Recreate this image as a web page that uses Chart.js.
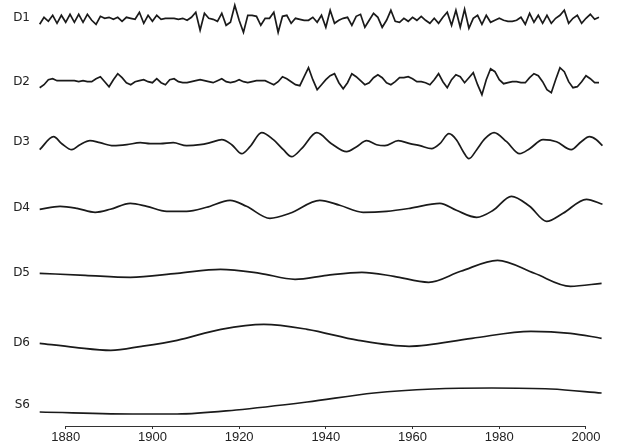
<!DOCTYPE html>
<html>
<head>
<meta charset="utf-8">
<script src="https://cdn.jsdelivr.net/npm/chart.js@4/dist/chart.umd.min.js"></script>
<style>
  body { margin: 0; background: #fff; }
  #wrap { width: 617px; height: 446px; }
</style>
</head>
<body>
<div id="wrap"><canvas id="chart"></canvas></div>
<script>
// row names, top to bottom
const rowNames = ["D1", "D2", "D3", "D4", "D5", "D6", "S6"];
const tickYears = [1880, 1900, 1920, 1940, 1960, 1980, 2000];

// annual detail series (1874 - 2003)
const firstYear = 1874;
const d1 = [-6, 1, -3, 3, -5, 3, -4, 4, -4, 4, -4, 4, -2, -6, 2, 0, 1, -1, 1, -3, 1, 0, -1, 6, -5, 3, -3, 3, -1, 0, 0, 0, -1, 0, -2, 1, 6,
  -12, 5, 0, -1, -3, 5, -7, -4, 13, -2, -14, 3, 3, 2, -7, 0, 0, 6, -14, 2, 3, -5, 0, -1, -2, -2, 1, -4, 3, -9, 8, -5, -2, 0, 1, -7, 2, 4, -9, -2, 5, 1, -9, -2, 8, -3, -4,
  0, -3, 1, -2, 2, -2, -5, 0, -5, 1, 6, -7, 8, -9, 9, -10, 0, 3, -6, 3, -4, -2, 0, -2, -3, -3, -2, 1, -6, 5, -4, 3, -5, 3, -5, 0, 3, 8, -5, 0, 3, -5, 0, 4, -1, 1];
const d2 = [-6, -3, 2, 3, 1, 1, 1, 1, 1, 0, 1, 0, 0, 3, 5, 0, -5, 2, 8, 4, -1, -3, 0, 1, 2, 0, -1, 3, -1, -3, 2, 3, 0, -1, -1, 0, 1,
  2, 1, 0, -1, 1, 3, 0, -1, 0, 2, 0, -1, 0, 1, 1, 1, -1, -3, 0, 5, 3, 0, -3, -4, 5, 14, 2, -8, -3, 2, 6, 8, -1, -7, -1, 8, 5, 1, -3, -1, 4, 7, 4, -1, -3, 0, 4,
  4, 5, 3, 0, 0, -1, -3, 2, 8, 0, -6, 2, 7, 5, -1, 4, 9, -3, -13, 2, 13, 10, 2, -2, -1, 0, 0, -1, -1, 4, 8, 6, 0, -8, -11, 2, 14, 10, 0, -6, -5, 0, 6, 3, -1, -1];

// smoother levels, read at turning points
const d3Years = [1874, 1877.2, 1879.1, 1881.4, 1883.3, 1885.6, 1887.9, 1891, 1894.1, 1897.2, 1899.5, 1901.8, 1904.8, 1907.9, 1911, 1913.3, 1916, 1918.3, 1920.6, 1922.5, 1925.2, 1927.9, 1930.2, 1932.1, 1934.4, 1937.9, 1941.3, 1944.8, 1947.1, 1949.4, 1951.7, 1953.6, 1956.7, 1959.4, 1961.7, 1964.4, 1966.3, 1968.4, 1970.1, 1971.7, 1973, 1974.8, 1976.7, 1978.8, 1981.7, 1984.7, 1987, 1990.1, 1993.2, 1996.6, 1998.9, 2000.8, 2002.4, 2003.8];
const d3Vals = [-8, 5, -2, -8, -3, 1, -1, -4, -3, -1, -2, -2, -1, -4, -3, -1, 2, -3, -12, -5, 9, 2, -8, -15, -7, 9, -2, -10, -5, 1, -3, -4, 1, -2, -4, -7, -2, 8, 2, -10, -17, -8, 3, 9, 0, -12, -7, 2, 0, -8, 0, 5, 2, -4];

const d4Years = [1874, 1878.7, 1882.6, 1886.8, 1890.3, 1894.9, 1898.7, 1903.3, 1907.9, 1912.5, 1917.9, 1921.7, 1927.1, 1931.7, 1938.6, 1943.2, 1948.6, 1954, 1959.4, 1966.3, 1970.1, 1974.8, 1978.6, 1982.8, 1987, 1990.9, 1994.7, 2000.1, 2003.8];
const d4Vals = [-1, 2, 0, -4, -1, 5, 2, -3, -3, 1, 8, 2, -10, -5, 8, 3, -4, -3, 0, 5, -2, -9, -2, 12, 2, -13, -5, 9, 4];

const d5Years = [1874, 1884.5, 1894.9, 1905.7, 1915.7, 1924.8, 1932.9, 1940.2, 1948.3, 1955.7, 1963.7, 1971.1, 1979.6, 1988.1, 1996.4, 2003.6];
const d5Vals = [0, -2, -4, 0, 4, 0, -6, -2, 1, -3, -9, 2, 13, 0, -13, -10];

const d6Years = [1874, 1882.1, 1890.4, 1897.5, 1905.7, 1915.8, 1925.7, 1935.7, 1947.5, 1959.2, 1973.7, 1987.3, 1996.4, 2003.6];
const d6Vals = [0, -4, -7, -3, 3, 14, 19, 14, 3, -3, 5, 12, 10, 5];

const s6Years = [1874, 1896.7, 1905.7, 1919.3, 1935.7, 1951.1, 1964.7, 1978.3, 1991.9, 2003.6];
const s6Vals = [-7, -9, -9, -5, 3, 12, 16, 17, 16, 12];

// vertical place of each row (zero line), in canvas pixels from the top
const rowBase = [18.3, 81.7, 141.7, 208.3, 273.3, 343.3, 405];

function annual(vals) {
  return vals.map((v, i) => ({ x: firstYear + i, y: v }));
}
function pairs(xs, vals) {
  return xs.map((x, i) => ({ x: x, y: vals[i] }));
}

const series = [
  { pts: annual(d1), smooth: false },
  { pts: annual(d2), smooth: false },
  { pts: pairs(d3Years, d3Vals), smooth: true },
  { pts: pairs(d4Years, d4Vals), smooth: true },
  { pts: pairs(d5Years, d5Vals), smooth: true },
  { pts: pairs(d6Years, d6Vals), smooth: true },
  { pts: pairs(s6Years, s6Vals), smooth: true }
];

const datasets = series.map((s, i) => ({
  label: rowNames[i],
  data: s.pts.map(p => ({ x: p.x, y: p.y - rowBase[i] })),
  borderColor: "#1a1a1a",
  borderWidth: 1.7,
  pointRadius: 0,
  fill: false,
  cubicInterpolationMode: s.smooth ? "monotone" : "default",
  tension: 0
}));

// R style axis line that only spans the first to last tick
const axisLine = {
  id: "axisLine",
  afterDraw(chart) {
    const x = chart.scales.x;
    const y = chart.chartArea.bottom + 0.5;
    const c = chart.ctx;
    c.save();
    c.beginPath();
    c.moveTo(x.getPixelForValue(tickYears[0]), y);
    c.lineTo(x.getPixelForValue(tickYears[tickYears.length - 1]), y);
    c.strokeStyle = "#333";
    c.lineWidth = 1;
    c.stroke();
    c.restore();
  }
};

// no extra room for the tick labels, the chart area fills the canvas
function noPad(scale) {
  scale.paddingTop = 0;
  scale.paddingBottom = 0;
  scale.paddingLeft = 0;
  scale.paddingRight = 0;
}

new Chart(document.getElementById("chart"), {
  type: "line",
  data: { datasets: datasets },
  options: {
    responsive: true,
    maintainAspectRatio: false,
    animation: false,
    layout: { padding: { top: 0, right: 5, bottom: 0, left: 0 } },
    plugins: { legend: { display: false }, tooltip: { enabled: false } },
    scales: {
      x: {
        type: "linear",
        min: 1873.15,
        max: 2006,
        afterBuildTicks: (scale) => { scale.ticks = tickYears.map(v => ({ value: v })); },
        afterFit: (scale) => { scale.height = 20; noPad(scale); },
        border: { display: false },
        grid: { display: true, drawOnChartArea: false, drawTicks: true, tickLength: 3, color: "#333" },
        ticks: {
          autoSkip: false,
          maxRotation: 0,
          padding: 1,
          color: "#222",
          font: { family: "Liberation Sans", size: 13 },
          callback: (v) => String(v)
        }
      },
      y: {
        type: "linear",
        min: -426,
        max: 0,
        afterBuildTicks: (scale) => { scale.ticks = rowBase.map(v => ({ value: -v })); },
        afterFit: (scale) => { scale.width = 36; noPad(scale); },
        border: { display: false },
        grid: { display: false, drawTicks: false },
        ticks: {
          autoSkip: false,
          padding: 6,
          color: "#222",
          font: { family: "DejaVu Sans", size: 12 },
          callback: (v) => {
            const i = rowBase.findIndex(b => Math.abs(b + v) < 0.01);
            return i >= 0 ? rowNames[i] : "";
          }
        }
      }
    }
  },
  plugins: [axisLine]
});
</script>
</body>
</html>
